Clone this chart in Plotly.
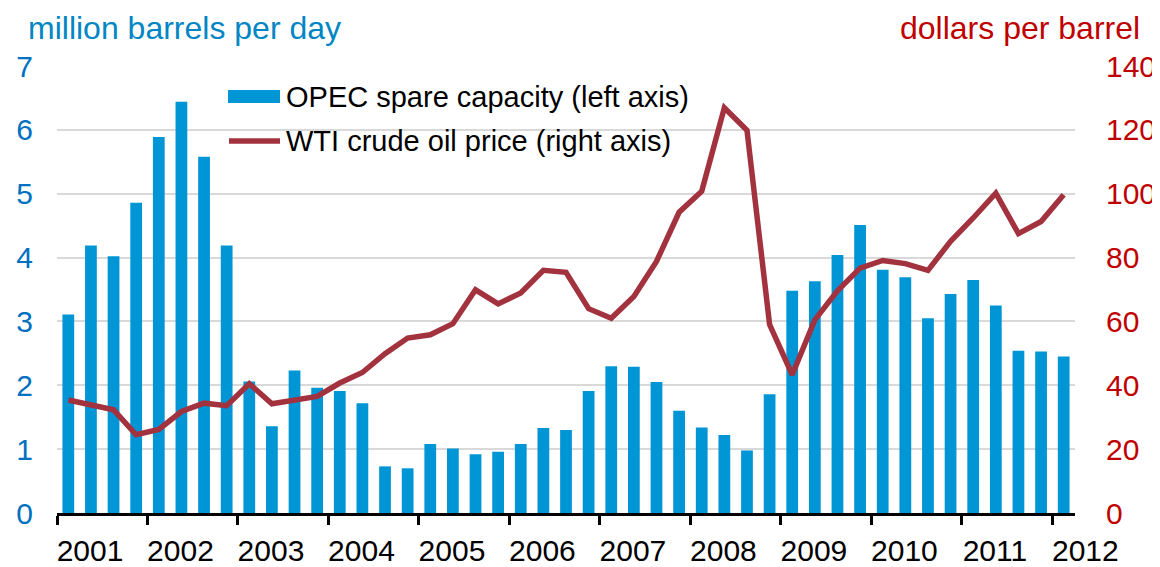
import plotly.graph_objects as go

# quarterly, 2001 Q1 .. 2012 Q1
quarters = [f"{y} Q{q}" for y in range(2001, 2013) for q in range(1, 5)][:45]

opec_spare = [3.11, 4.19, 4.02, 4.86, 5.89, 6.44, 5.58, 4.19,
              2.06, 1.36, 2.23, 1.96, 1.91, 1.72, 0.73, 0.70,
              1.08, 1.01, 0.92, 0.96, 1.08, 1.33, 1.30, 1.91,
              2.30, 2.29, 2.05, 1.60, 1.34, 1.22, 0.98, 1.86,
              3.48, 3.63, 4.04, 4.51, 3.81, 3.69, 3.05, 3.43,
              3.65, 3.25, 2.54, 2.53, 2.45]

wti_price = [35.4, 33.9, 32.3, 24.5, 26.2, 31.8, 34.4, 33.6,
             40.5, 34.2, 35.4, 36.5, 40.7, 44.0, 49.9, 54.8,
             55.8, 59.3, 69.9, 65.5, 68.9, 76.0, 75.4, 64.0,
             61.0, 67.8, 78.8, 94.2, 100.8, 126.9, 119.9, 59.0,
             43.3, 60.5, 69.6, 76.7, 79.1, 78.1, 76.0, 85.1,
             92.4, 100.2, 87.5, 91.3, 99.7]

year_labels = [str(y) for y in range(2001, 2013)]

BLUE = "#0096D6"
RED_LINE = "#A3323F"
FONT = "Liberation Sans, Arial, sans-serif"

# the page body has an 8px margin, so reference pixels are shifted by it
OFF = 8
# plot area in reference pixels
L, R, T, B = 57, 1075, 66, 513
W, H = R - L, B - T


def px_x(p):
    return (p - L) / W


def px_y(p):
    return (B - p) / H


x = list(range(len(quarters)))

fig = go.Figure()
fig.add_trace(go.Bar(
    x=x, y=opec_spare, name="OPEC spare capacity (left axis)",
    marker=dict(color=BLUE, line=dict(width=0)), width=0.52,
    customdata=quarters, hovertemplate="%{customdata}: %{y}<extra></extra>"
))
fig.add_trace(go.Scatter(
    x=x, y=wti_price, name="WTI crude oil price (right axis)", yaxis="y2",
    mode="lines", line=dict(color=RED_LINE, width=5.5),
    customdata=quarters, hovertemplate="%{customdata}: $%{y}<extra></extra>"
))

fig.update_layout(
    width=1160, height=567,
    margin=dict(l=L - OFF, r=1160 - R + OFF, t=T - OFF, b=567 - B + OFF),
    plot_bgcolor="white", paper_bgcolor="white",
    showlegend=False,
    font=dict(family=FONT, size=28, color="black"),
    xaxis=dict(
        range=[-0.5, 44.5],
        tickmode="array",
        tickvals=[-0.5 + 4 * k for k in range(len(year_labels))],
        ticktext=year_labels,
        ticklabelshift=33,
        ticks="outside", ticklen=9, tickwidth=3, tickcolor="black",
        showline=True, linewidth=3, linecolor="black",
        showgrid=False, zeroline=False, automargin=False,
        tickfont=dict(size=30, color="black"),
    ),
    yaxis=dict(
        range=[0, 7], dtick=1,
        showgrid=True, gridcolor="#D9D9D9", gridwidth=1.5,
        zeroline=False, showline=False, ticks="", automargin=False,
        tickfont=dict(size=30, color="#0070C0"),
        ticklabelstandoff=23,
    ),
    yaxis2=dict(
        range=[0, 140], dtick=20, overlaying="y", side="right",
        showgrid=False, zeroline=False, showline=False, ticks="", automargin=False,
        tickfont=dict(size=30, color="#C00000"),
        ticklabelstandoff=30,
    ),
    annotations=[
        dict(text="million barrels per day", xref="paper", yref="paper",
             x=px_x(26), y=px_y(28), xanchor="left", yanchor="middle",
             showarrow=False, font=dict(size=32, color="#0086C4")),
        dict(text="dollars per barrel", xref="paper", yref="paper",
             x=px_x(1142), y=px_y(28), xanchor="right", yanchor="middle",
             showarrow=False, font=dict(size=32, color="#C00000")),
        dict(text="OPEC spare capacity (left axis)", xref="paper", yref="paper",
             x=px_x(284), y=px_y(97), xanchor="left", yanchor="middle",
             showarrow=False, font=dict(size=29, color="black")),
        dict(text="WTI crude oil price (right axis)", xref="paper", yref="paper",
             x=px_x(284), y=px_y(141), xanchor="left", yanchor="middle",
             showarrow=False, font=dict(size=29, color="black")),
    ],
    shapes=[
        dict(type="rect", xref="paper", yref="paper",
             x0=px_x(228), x1=px_x(280), y0=px_y(103), y1=px_y(90),
             line=dict(width=0), fillcolor=BLUE),
        dict(type="line", xref="paper", yref="paper",
             x0=px_x(229), x1=px_x(280), y0=px_y(141), y1=px_y(141),
             line=dict(color=RED_LINE, width=5.5)),
    ],
)

fig.write_html("out.html")
